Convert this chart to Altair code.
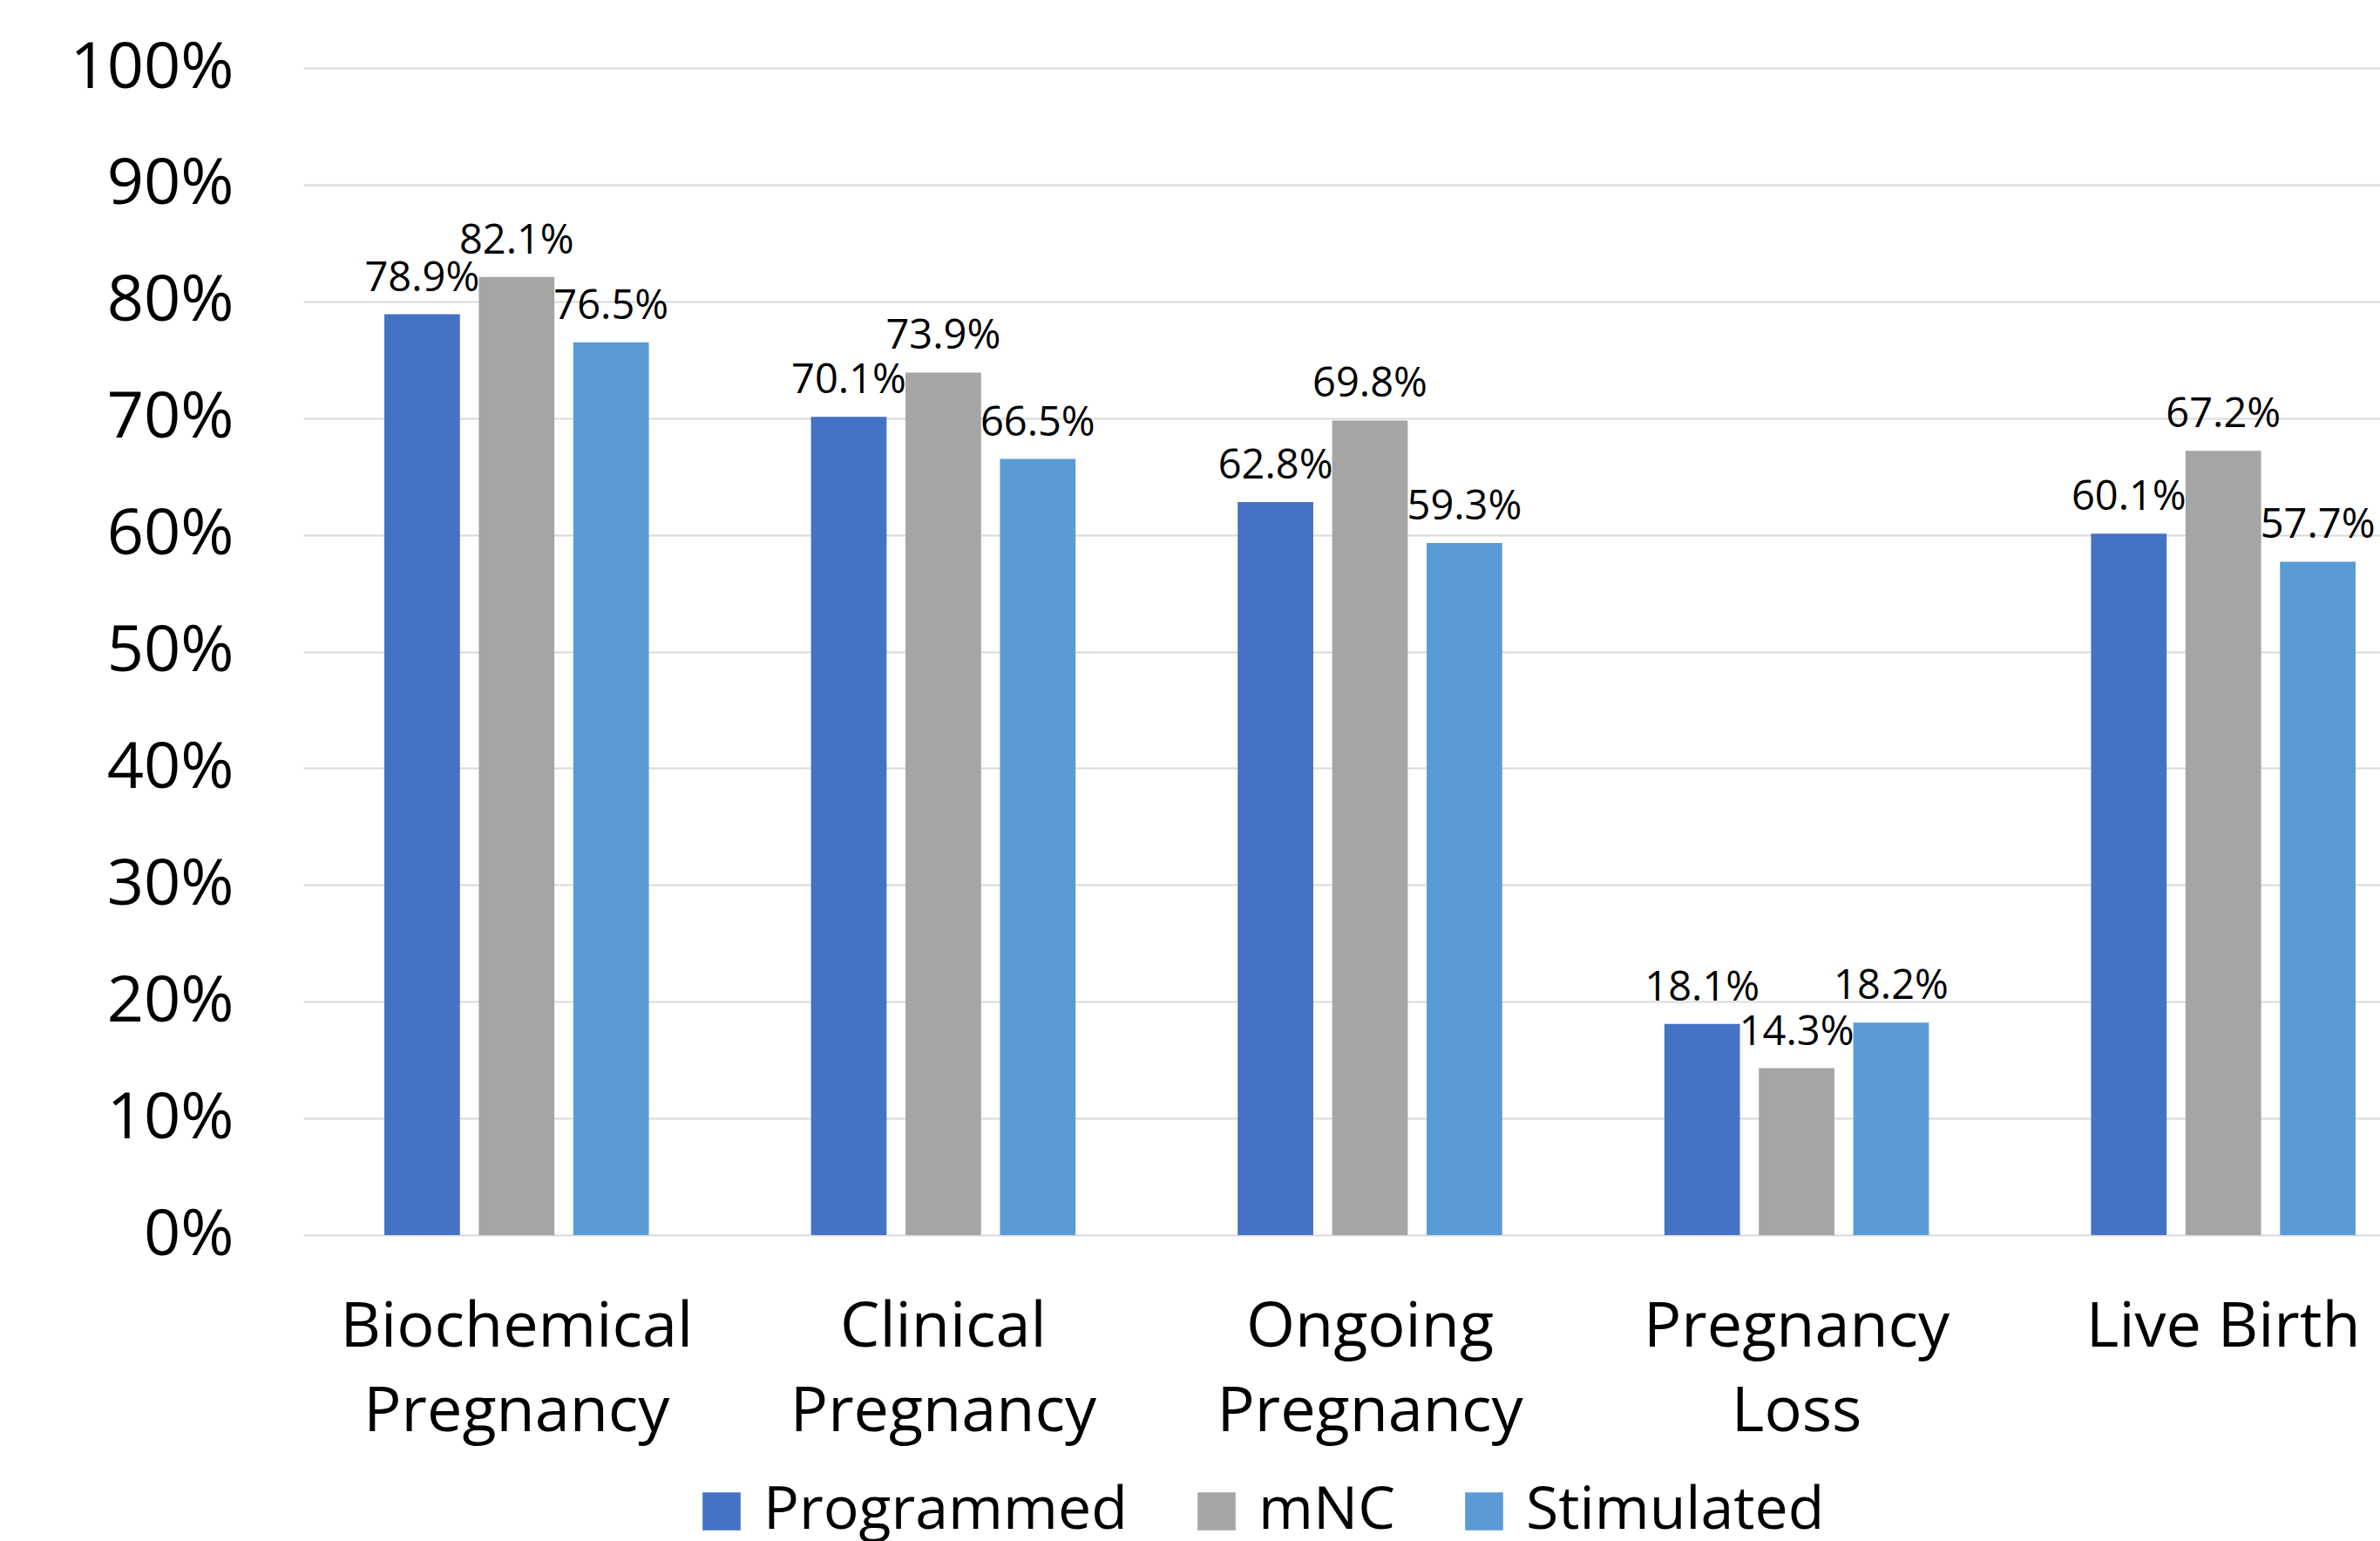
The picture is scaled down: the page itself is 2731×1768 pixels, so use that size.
import altair as alt
import pandas as pd

categories = ["Biochemical Pregnancy", "Clinical Pregnancy", "Ongoing Pregnancy",
              "Pregnancy Loss", "Live Birth"]
series = ["Programmed", "mNC", "Stimulated"]
programmed = [78.9, 70.1, 62.8, 18.1, 60.1]
mnc = [82.1, 73.9, 69.8, 14.3, 67.2]
stimulated = [76.5, 66.5, 59.3, 18.2, 57.7]
colors = ["#4472C4", "#A5A5A5", "#5B9BD5"]
y_ticks = [0, 0.1, 0.2, 0.3, 0.4, 0.5, 0.6, 0.7, 0.8, 0.9, 1.0]

rows = []
for name, vals in zip(series, [programmed, mnc, stimulated]):
    for cat, v in zip(categories, vals):
        rows.append({"category": cat, "series": name, "value": v / 100.0,
                     "label": f"{v:.1f}%"})
df = pd.DataFrame(rows)

FONT = "Open Sans"

x_enc = alt.X("category:N", sort=categories,
              scale=alt.Scale(range=[0, 2448], paddingInner=0.38, paddingOuter=0.19),
              axis=alt.Axis(title=None, ticks=False, tickSize=0, domain=False, grid=False,
                            labelAngle=0, labelFontSize=72, labelColor="#000000",
                            labelPadding=70, labelLineHeight=97, labelLimit=1000,
                            labelBaseline="top",
                            labelExpr="datum.value == 'Live Birth' ? datum.value : split(datum.value, ' ')"))
xo_enc = alt.XOffset("series:N", sort=series,
                     scale=alt.Scale(paddingInner=0.2, paddingOuter=0))
y_enc = alt.Y("value:Q",
              scale=alt.Scale(domain=[0, 1], nice=False, zero=True),
              axis=alt.Axis(title=None, format=".0%", values=y_ticks, ticks=False, tickSize=0,
                            domain=False, grid=True, gridColor="#D9D9D9", gridWidth=2,
                            labelFontSize=74, labelColor="#000000", labelPadding=80,
                            labelLimit=1000))
color_enc = alt.Color("series:N", sort=series,
                      scale=alt.Scale(domain=series, range=colors),
                      legend=alt.Legend(title=None, orient="none", legendX=446, legendY=1622,
                                        direction="horizontal", symbolType="square",
                                        symbolSize=1900, symbolStrokeWidth=0,
                                        labelFontSize=68, labelColor="#000000",
                                        labelOffset=14, columnPadding=68, labelLimit=1000,
                                        padding=0))

bars = alt.Chart(df).mark_bar().encode(
    x=x_enc, xOffset=xo_enc, y=y_enc, color=color_enc
)

text = alt.Chart(df).mark_text(fontSize=47, dy=-27, baseline="alphabetic",
                               align="center", color="#000000").encode(
    x=alt.X("category:N", sort=categories),
    xOffset=alt.XOffset("series:N", sort=series),
    y=alt.Y("value:Q"),
    text="label:N"
)

chart = alt.layer(bars, text).properties(
    width=2383, height=1339,
    autosize=alt.AutoSizeParams(type="none"),
    padding={"left": 348, "top": 78, "right": 0, "bottom": 351}
).configure(font=FONT).configure_view(stroke=None)

chart.save("out.html", embed_options={"renderer": "svg", "actions": False})
